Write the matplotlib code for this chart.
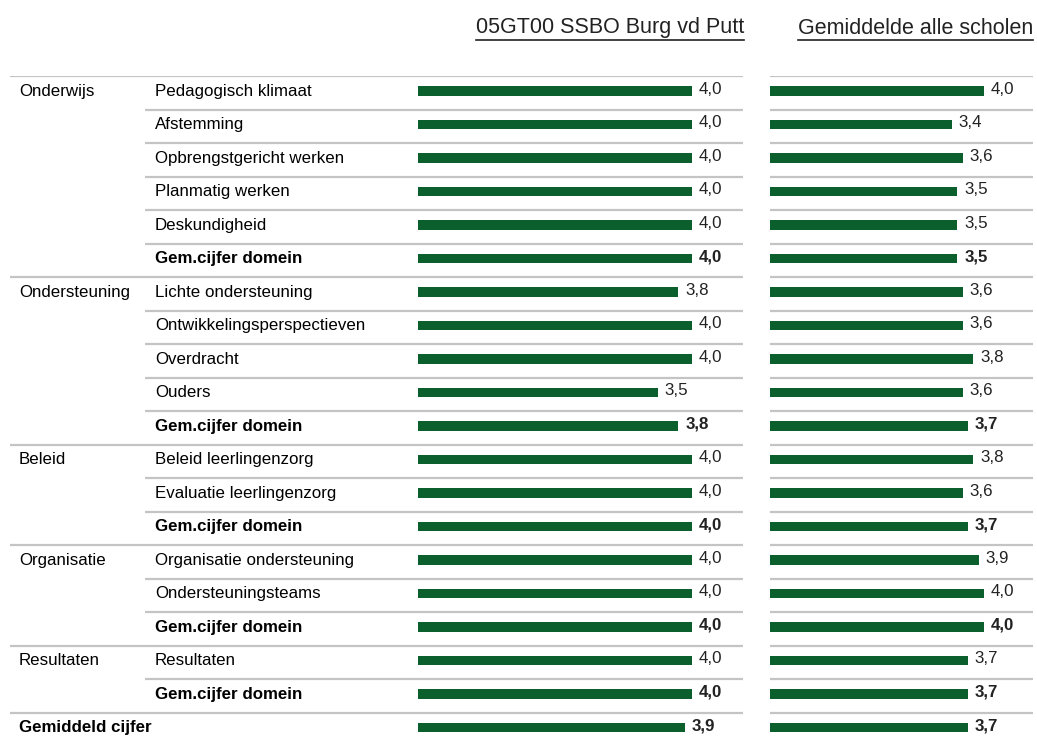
"""plot.py - schoolscores per domein"""

import matplotlib
matplotlib.use("Agg")
import matplotlib.pyplot as plt
from matplotlib.lines import Line2D

plt.rcParams['font.family'] = ['Liberation Sans', 'DejaVu Sans']

domeinen = ['Onderwijs', '', '', '', '', '',
            'Ondersteuning', '', '', '', '',
            'Beleid', '', '',
            'Organisatie', '', '',
            'Resultaten', '',
            'Gemiddeld cijfer']
onderdelen = ['Pedagogisch klimaat', 'Afstemming', 'Opbrengstgericht werken',
              'Planmatig werken', 'Deskundigheid', 'Gem.cijfer domein',
              'Lichte ondersteuning', 'Ontwikkelingsperspectieven', 'Overdracht',
              'Ouders', 'Gem.cijfer domein',
              'Beleid leerlingenzorg', 'Evaluatie leerlingenzorg', 'Gem.cijfer domein',
              'Organisatie ondersteuning', 'Ondersteuningsteams', 'Gem.cijfer domein',
              'Resultaten', 'Gem.cijfer domein',
              '']
school = [4.0, 4.0, 4.0, 4.0, 4.0, 4.0,
          3.8, 4.0, 4.0, 3.5, 3.8,
          4.0, 4.0, 4.0,
          4.0, 4.0, 4.0,
          4.0, 4.0,
          3.9]
gemiddelde = [4.0, 3.4, 3.6, 3.5, 3.5, 3.5,
              3.6, 3.6, 3.8, 3.6, 3.7,
              3.8, 3.6, 3.7,
              3.9, 4.0, 4.0,
              3.7, 3.7,
              3.7]
vet = [False, False, False, False, False, True,
       False, False, False, False, True,
       False, False, True,
       False, False, True,
       False, True,
       True]
titel_school = '05GT00 SSBO Burg vd Putt'
titel_gem = 'Gemiddelde alle scholen'

W, H = 1037, 740
TOP, ROW_H = 76, 33.5
n = len(school)
GROEN = '#0b5f2d'
LIJN = '#c4c4c4'


def rect(x0, x1):
    """axes-rechthoek in figuurfracties vanuit pixels"""
    y_bot = TOP + ROW_H * n
    return [x0 / W, (H - y_bot) / H, (x1 - x0) / W, ROW_H * n / H]


fig = plt.figure(figsize=(W / 100, H / 100), dpi=100)
fig.patch.set_facecolor('white')

ax_lab = fig.add_axes(rect(0, 743))
ax_s = fig.add_axes(rect(418, 743))
ax_g = fig.add_axes(rect(770, 1033))

for ax in (ax_lab, ax_s, ax_g):
    ax.set_ylim(n, 0)
    ax.axis('off')
ax_lab.set_xlim(0, 743)
ax_s.set_xlim(0, 325 / 68.5)
ax_g.set_xlim(0, 263 / 53.5)
ax_s.set_zorder(2)
ax_g.set_zorder(2)
ax_lab.set_zorder(1)

y = [i + 0.45 for i in range(n)]

# scheidingslijnen
for i in range(n):
    start = 10 if domeinen[i] else 145
    ax_lab.hlines(i, start, 743, color=LIJN, lw=1.6)
    ax_g.axhline(i, color=LIJN, lw=1.6)

# labels
for i in range(n):
    w = 'bold' if vet[i] else 'normal'
    if domeinen[i]:
        ax_lab.text(19, y[i], domeinen[i], va='center', ha='left', fontsize=12.2,
                    fontweight='bold' if domeinen[i] == 'Gemiddeld cijfer' else 'normal')
    if onderdelen[i]:
        ax_lab.text(155, y[i], onderdelen[i], va='center', ha='left', fontsize=12.2,
                    fontweight=w)

# balken
ax_s.barh(y, school, height=0.28, color=GROEN, edgecolor='none')
ax_g.barh(y, gemiddelde, height=0.28, color=GROEN, edgecolor='none')
for ax, vals in ((ax_s, school), (ax_g, gemiddelde)):
    for i, v in enumerate(vals):
        ax.annotate(f'{v:.1f}'.replace('.', ','), (v, y[i] - 0.05),
                    xytext=(5, 0), textcoords='offset points',
                    va='center', ha='left', fontsize=12.2, color='#222222',
                    fontweight='bold' if vet[i] else 'normal')

# koppen, onderstreept
koppen = [(titel_school, 744), (titel_gem, 1033)]
teksten = []
for tekst, xr in koppen:
    t = fig.text(xr / W, 1 - 28 / H, tekst, ha='right', va='center',
                 fontsize=15.5, color='#222222')
    teksten.append(t)
fig.canvas.draw()
r = fig.canvas.get_renderer()
for t in teksten:
    bb = t.get_window_extent(r)
    yl = bb.y0 - 1
    fig.add_artist(Line2D([bb.x0 / W, bb.x1 / W], [yl / H, yl / H],
                          color='#222222', lw=1.2))

fig.savefig('out.png', dpi=100, facecolor='white')
